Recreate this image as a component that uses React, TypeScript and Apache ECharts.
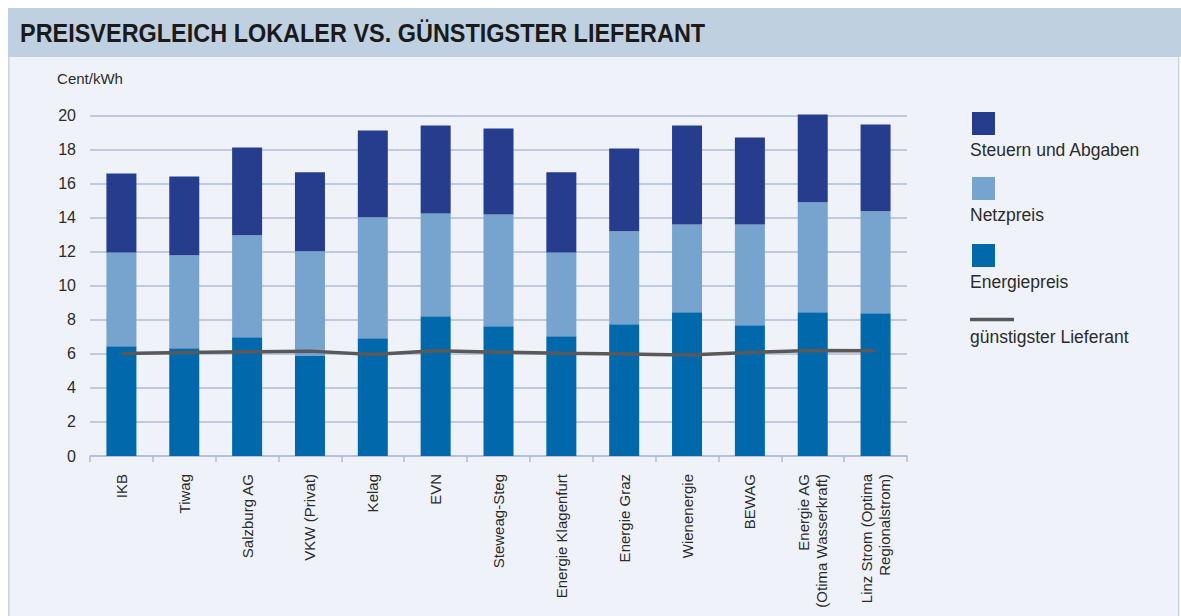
import React, { useEffect, useRef } from "react";
import * as echarts from "echarts";

const categories = [
  "IKB",
  "Tiwag",
  "Salzburg AG",
  "VKW (Privat)",
  "Kelag",
  "EVN",
  "Steweag-Steg",
  "Energie Klagenfurt",
  "Energie Graz",
  "Wienenergie",
  "BEWAG",
  "Energie AG\n(Otima Wasserkraft)",
  "Linz Strom (Optima\nRegionalstrom)",
];

const energiepreis = [6.45, 6.33, 6.98, 5.87, 6.92, 8.21, 7.62, 7.04, 7.74, 8.45, 7.68, 8.45, 8.39];
const netzpreis = [5.51, 5.46, 5.98, 6.15, 7.1, 6.04, 6.57, 4.92, 5.46, 5.15, 5.92, 6.45, 5.98];
const steuern = [4.64, 4.63, 5.16, 4.64, 5.1, 5.16, 5.05, 4.7, 4.86, 5.81, 5.11, 5.16, 5.1];
const guenstigster = [6.02, 6.08, 6.12, 6.16, 5.96, 6.18, 6.1, 6.04, 5.99, 5.93, 6.08, 6.2, 6.18];

const title = "PREISVERGLEICH LOKALER VS. GÜNSTIGSTER LIEFERANT";
const yName = "Cent/kWh";

const C_STEUER = "#253D8C";
const C_NETZ = "#77A3CF";
const C_ENERGIE = "#0068AB";
const C_LINE = "#595959";
const GRID_C = "#B0BCD4";
const FONT = "'Liberation Sans', Arial, sans-serif";

export default function App() {
  const ref = useRef<HTMLDivElement>(null);
  useEffect(() => {
    if (!ref.current) return;
    const chart = echarts.init(ref.current, null, { renderer: "svg" });
    const legendItems = [
      { name: "Steuern und Abgaben", color: C_STEUER, type: "box", y: 104 },
      { name: "Netzpreis", color: C_NETZ, type: "box", y: 169 },
      { name: "Energiepreis", color: C_ENERGIE, type: "box", y: 236 },
      { name: "günstigster Lieferant", color: C_LINE, type: "line", y: 310 },
    ];
    const legendGraphics: any[] = [];
    legendItems.forEach((it) => {
      if (it.type === "box") {
        legendGraphics.push({
          type: "rect",
          shape: { x: 964, y: it.y, width: 23, height: 23 },
          style: { fill: it.color },
        });
        legendGraphics.push({
          type: "text",
          x: 962,
          y: it.y + 38,
          style: { text: it.name, fill: "#2B2B2B", font: `17.5px ${FONT}`, textVerticalAlign: "middle" },
        });
      } else {
        legendGraphics.push({
          type: "line",
          shape: { x1: 962, y1: it.y + 1.5, x2: 1006, y2: it.y + 1.5 },
          style: { stroke: it.color, lineWidth: 3.5 },
        });
        legendGraphics.push({
          type: "text",
          x: 962,
          y: it.y + 19,
          style: { text: it.name, fill: "#2B2B2B", font: `17.5px ${FONT}`, textVerticalAlign: "middle" },
        });
      }
    });

    chart.setOption({
      animation: false,
      backgroundColor: "#EFF3F9",
      textStyle: { fontFamily: FONT },
      graphic: [
        { type: "rect", shape: { x: 0, y: 0, width: 1173, height: 49 }, style: { fill: "#BFD0E1" }, z: 0 },
        {
          type: "line",
          shape: { x1: 0.75, y1: 49, x2: 0.75, y2: 608 },
          style: { stroke: "#CAD4E1", lineWidth: 1.5 },
        },
        {
          type: "line",
          shape: { x1: 1170.75, y1: 49, x2: 1170.75, y2: 608 },
          style: { stroke: "#CAD4E1", lineWidth: 1.5 },
        },
        { type: "rect", shape: { x: 1171.5, y: 49, width: 2, height: 560 }, style: { fill: "#FFFFFF" } },
        {
          type: "text",
          x: 12,
          y: 25,
          scaleX: 0.902,
          style: {
            text: title,
            fill: "#1A1A1A",
            font: `bold 26px ${FONT}`,
            textVerticalAlign: "middle",
          },
        },
        ...legendGraphics,
      ],
      grid: { left: 82, right: 274, top: 107.5, bottom: 160, containLabel: false },
      xAxis: {
        type: "category",
        data: categories,
        boundaryGap: true,
        axisLine: { show: true, lineStyle: { color: GRID_C, width: 1.5 } },
        axisTick: { show: true, length: 6, lineStyle: { color: GRID_C, width: 1.5 } },
        axisLabel: {
          interval: 0,
          rotate: 90,
          margin: 18,
          color: "#2B2B2B",
          fontSize: 15,
          fontFamily: FONT,
          lineHeight: 18,
        },
      },
      yAxis: {
        type: "value",
        min: 0,
        max: 20,
        interval: 2,
        name: yName,
        nameLocation: "end",
        nameGap: 30,
        nameTextStyle: { color: "#2B2B2B", fontSize: 15, fontFamily: FONT, align: "center" },
        axisLine: { show: false },
        axisTick: { show: false },
        axisLabel: { color: "#2B2B2B", fontSize: 16, margin: 14, fontFamily: FONT },
        splitLine: { show: true, lineStyle: { color: GRID_C, width: 1.5 } },
      },
      series: [
        {
          name: "Energiepreis",
          type: "bar",
          stack: "total",
          data: energiepreis,
          barWidth: 30,
          itemStyle: { color: C_ENERGIE },
          clip: false,
        },
        {
          name: "Netzpreis",
          type: "bar",
          stack: "total",
          data: netzpreis,
          barWidth: 30,
          itemStyle: { color: C_NETZ },
          clip: false,
        },
        {
          name: "Steuern und Abgaben",
          type: "bar",
          stack: "total",
          data: steuern,
          barWidth: 30,
          itemStyle: { color: C_STEUER },
          clip: false,
        },
        {
          name: "günstigster Lieferant",
          type: "line",
          data: guenstigster,
          symbol: "none",
          lineStyle: { color: C_LINE, width: 3.5 },
          itemStyle: { color: C_LINE },
          z: 5,
          clip: false,
        },
      ],
    });
    return () => chart.dispose();
  }, []);
  return (
    <div
      ref={ref}
      style={{ position: "absolute", left: 8, top: 8, width: 1173, height: 608 }}
    />
  );
}
